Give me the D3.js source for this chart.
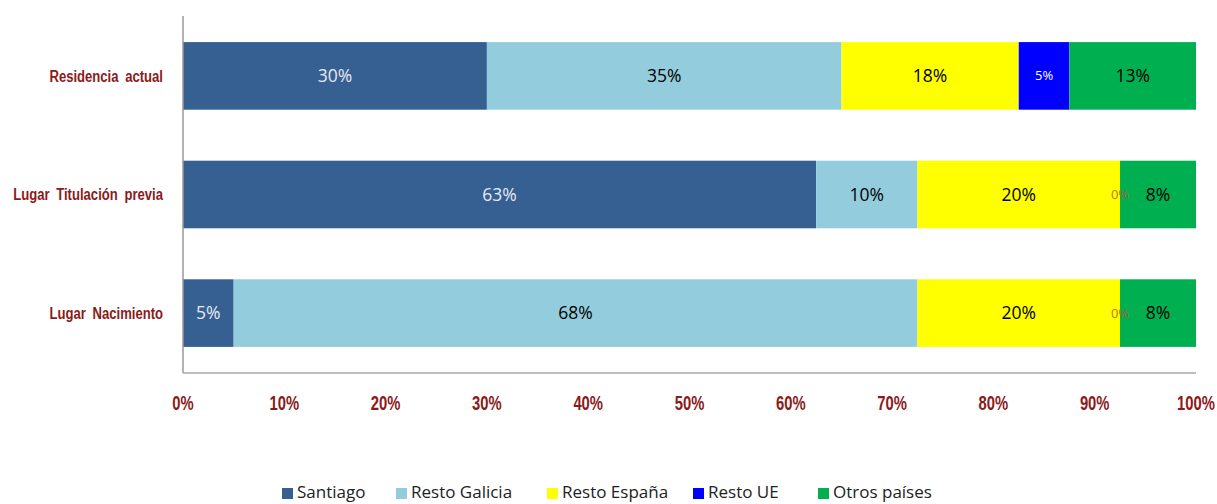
<!DOCTYPE html>
<html><head><meta charset="utf-8">
<script src="https://cdn.jsdelivr.net/npm/d3@7"></script>
<style>body{margin:0;background:#fff}</style>
</head><body><svg id="c" width="1217" height="504"></svg>
<script>
const categories = ["Residencia actual", "Lugar Titulación previa", "Lugar Nacimiento"];
const seriesNames = ["Santiago", "Resto Galicia", "Resto España", "Resto UE", "Otros países"];
const santiago = [30, 62.5, 5];
const restoGalicia = [35, 10, 67.5];
const restoEspana = [17.5, 20, 20];
const restoUE = [5, 0, 0];
const otros = [12.5, 7.5, 7.5];
const xTicks = [0,10,20,30,40,50,60,70,80,90,100];
const colors = ["#366092", "#93CDDD", "#FFFF00", "#0000FF", "#00B050"];
const labelColors = ["#e6e9f2", "#000", "#000", "#fff", "#000"];

const series = [santiago, restoGalicia, restoEspana, restoUE, otros];
const svg = d3.select("#c");
const L = 183, R = 1196, T = 16, B = 373;
const x = d3.scaleLinear().domain([0,100]).range([L,R]);
const y = d3.scaleBand().domain(categories).range([T,B]).paddingInner(0.43).paddingOuter(0.22);

const rows = categories.map((c,i)=>{
  let acc = 0;
  return series.map((s,k)=>{ const v=s[i]; const o={cat:c,k,v,x0:acc,x1:acc+v}; acc+=v; return o;});
});
const g = svg.append("g");
rows.forEach(r=>{
  g.selectAll(null).data(r.filter(d=>d.v>0)).enter().append("rect")
    .attr("x",d=>x(d.x0)).attr("width",d=>x(d.x1)-x(d.x0))
    .attr("y",d=>y(d.cat)).attr("height",y.bandwidth())
    .attr("fill",d=>colors[d.k]);
  g.selectAll(null).data(r).enter().append("text")
    .attr("x",d=>(x(d.x0)+x(d.x1))/2)
    .attr("y",d=>y(d.cat)+y.bandwidth()/2)
    .attr("dy","0.35em").attr("text-anchor","middle")
    .attr("font-family","'Open Sans', 'Liberation Sans', sans-serif")
    .attr("font-size",d=>d.k===3?13:17.5)
    .attr("fill",d=>d.v===0?"#b05a30":labelColors[d.k])
    .attr("fill-opacity",d=>d.v===0?0.85:1)
    .text(d=>Math.round(d.v)+"%");
});

// axes lines
svg.append("line").attr("x1",L).attr("x2",L).attr("y1",T).attr("y2",B).attr("stroke","#999").attr("stroke-width",1.5);
svg.append("line").attr("x1",L).attr("x2",R).attr("y1",B).attr("y2",B).attr("stroke","#aaa").attr("stroke-width",1.5);

const redFont = "'Liberation Sans', sans-serif";
svg.selectAll(".xt").data(xTicks).enter().append("text")
  .attr("transform",d=>`translate(${x(d)},403) scale(0.76,1)`)
  .attr("dy","0.35em").attr("text-anchor","middle")
  .attr("font-family",redFont).attr("font-size",19.5).attr("font-weight","bold")
  .attr("fill","#8B1A1A").text(d=>d+"%");
svg.selectAll(".yt").data(categories).enter().append("text")
  .attr("transform",d=>`translate(163,${y(d)+y.bandwidth()/2}) scale(0.77,1)`)
  .attr("dy","0.35em").attr("text-anchor","end")
  .attr("font-family",redFont).attr("font-size",17).attr("font-weight","bold")
  .attr("word-spacing","4px")
  .attr("fill","#8B1A1A").text(d=>d);

// legend
const legX = [282, 396, 547, 693, 818];
const lg = svg.append("g");
seriesNames.forEach((n,i)=>{
  lg.append("rect").attr("x",legX[i]).attr("y",488).attr("width",11).attr("height",11).attr("fill",colors[i]);
  lg.append("text").attr("x",legX[i]+15).attr("y",498)
    .attr("font-family","'Open Sans', 'Liberation Sans', sans-serif").attr("font-size",17)
    .attr("fill","#222").text(n);
});
</script></body></html>
